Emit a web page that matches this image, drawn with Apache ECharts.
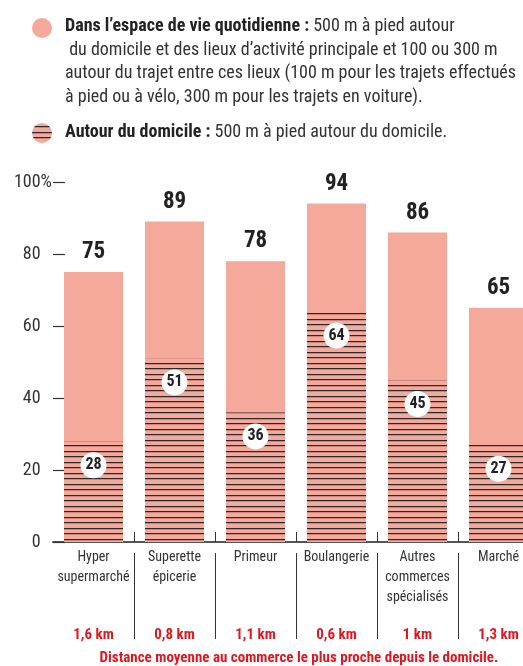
<!DOCTYPE html>
<html><head><meta charset="utf-8">
<script src="https://cdn.jsdelivr.net/npm/echarts@6/dist/echarts.min.js"></script>
<style>html,body{margin:0;padding:0;background:#fff}#c{width:523px;height:666px}</style>
</head><body><div id="c"></div>
<script>
const categories = ['Hyper\nsupermarché','Superette\népicerie','Primeur','Boulangerie','Autres\ncommerces\nspécialisés','Marché'];
const espaceVie = [75, 89, 78, 94, 86, 65];
const domicile = [28, 51, 36, 64, 45, 27];
const distances = ['1,6 km','0,8 km','1,1 km','0,6 km','1 km','1,3 km'];
const yTicks = [0, 20, 40, 60, 80, 100];

const FONT = "'Roboto Condensed','Liberation Sans Narrow','DejaVu Sans Condensed','Roboto',sans-serif";
const PINK = '#F4A99B';
const RED = '#E2161E';
const DARK = '#222';

function makePattern(){
  const c = document.createElement('canvas');
  c.width = 4; c.height = 11;
  const g = c.getContext('2d');
  g.fillStyle = PINK; g.fillRect(0,0,4,11);
  g.fillStyle = '#2a2a2a'; g.fillRect(0,0,4,1); g.fillRect(0,5,4,1);
  g.fillStyle = 'rgba(60,40,40,0.25)'; g.fillRect(0,1,4,1); g.fillRect(0,6,4,1);
  return {image: c, repeat: 'repeat'};
}
const hatch = makePattern();

const chart = echarts.init(document.getElementById('c'), null, {renderer:'canvas'});
const skipFirst = function(i){ return i > 0; };

chart.setOption({
  animation: false,
  textStyle: {fontFamily: FONT},
  grid: {left: 53, top: 182, width: 486, bottom: 124, containLabel: false, outerBoundsMode: 'none'},
  xAxis: [{
    type: 'category', data: categories,
    axisLine: {show: true, lineStyle: {color: '#555', width: 2}},
    axisTick: {show: true, inside: true, length: 10, interval: skipFirst, lineStyle: {color: '#333', width: 1}},
    axisLabel: {margin: 5, color: '#333', fontSize: 14, lineHeight: 20, fontFamily: FONT, verticalAlign: 'top', interval: 0}
  },{
    type: 'category', data: distances, position: 'bottom', offset: 11,
    axisLine: {show: false},
    axisTick: {show: true, length: 86, interval: skipFirst, lineStyle: {color: '#333', width: 1}},
    axisLabel: {margin: 75, color: RED, fontSize: 15, fontWeight: 'bold', fontFamily: FONT, interval: 0}
  }],
  yAxis: {
    type: 'value', min: 0, max: 100, interval: 20,
    axisLine: {show: false},
    splitLine: {show: false},
    axisTick: {show: true, inside: true, length: 12, lineStyle: {color: '#333', width: 1.2}},
    axisLabel: {
      margin: 1, color: '#333', fontSize: 18, fontFamily: FONT,
      formatter: function(v){ return yTicks.indexOf(v) >= 0 ? (v === 100 ? v + '{p|%}' : v + '{h|%}') : ''; },
      rich: {p: {color: '#333', fontSize: 18, fontFamily: FONT}, h: {color: 'rgba(0,0,0,0)', fontSize: 18, fontFamily: FONT}}
    }
  },
  series: [{
    name: 'Dans l’espace de vie quotidienne', type: 'bar', data: espaceVie, barWidth: 59,
    itemStyle: {color: PINK},
    label: {show: true, position: 'top', distance: 8, color: DARK, fontSize: 23, fontWeight: 'bold', fontFamily: FONT}
  },{
    name: 'Autour du domicile', type: 'bar', data: domicile, barWidth: 59, barGap: '-100%',
    itemStyle: {color: hatch},
    label: {show: true, position: 'insideTop', distance: 11, color: DARK, fontSize: 16, fontWeight: 'bold', fontFamily: FONT,
      backgroundColor: '#fff', borderRadius: 13, width: 26, height: 26, lineHeight: 26, align: 'center', padding: 0}
  }],
  graphic: [
    {type: 'circle', shape: {cx: 42, cy: 28, r: 10}, style: {fill: PINK}},
    {type: 'text', left: 65, top: 15, style: {
      text: '{b|Dans l’espace de vie quotidienne :} 500 m à pied autour\n du domicile et des lieux d’activité principale et 100 ou 300 m\nautour du trajet entre ces lieux (100 m pour les trajets effectués\nà pied ou à vélo, 300 m pour les trajets en voiture).',
      font: '18px ' + FONT, fill: '#333', lineHeight: 23.5,
      rich: {b: {fontWeight: 'bold', fontSize: 18, fontFamily: FONT, fill: DARK, lineHeight: 23.5}}
    }},
    {type: 'circle', shape: {cx: 42, cy: 133, r: 10}, style: {fill: hatch}},
    {type: 'text', left: 65, top: 121, style: {
      text: '{b|Autour du domicile :} 500 m à pied autour du domicile.',
      font: '18px ' + FONT, fill: '#333', lineHeight: 23.5,
      rich: {b: {fontWeight: 'bold', fontSize: 18, fontFamily: FONT, fill: DARK, lineHeight: 23.5}}
    }},
    {type: 'text', x: 299, y: 658, style: {
      text: 'Distance moyenne au commerce le plus proche depuis le domicile.',
      font: 'bold 15px ' + FONT, fill: RED, align: 'center', verticalAlign: 'middle'
    }}
  ]
});
</script></body></html>
